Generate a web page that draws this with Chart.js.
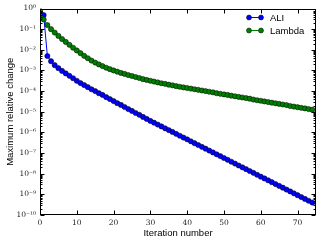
<!DOCTYPE html>
<html><head><meta charset="utf-8">
<script src="https://cdn.jsdelivr.net/npm/chart.js@4.4.1/dist/chart.umd.min.js"></script>
<style>html,body{margin:0;padding:0;background:#fff}canvas{display:block}</style>
</head><body>
<canvas id="c" width="325" height="245"></canvas>
<script>
const iterations = [0,1,2,3,4,5,6,7,8,9,10,11,12,13,14,15,16,17,18,19,20,21,22,23,24,25,26,27,28,29,30,31,32,33,34,35,36,37,38,39,40,41,42,43,44,45,46,47,48,49,50,51,52,53,54,55,56,57,58,59,60,61,62,63,64,65,66,67,68,69,70,71,72,73,74];
const aliValues = [0.66,0.48,5.0e-3,2.8e-3,1.8e-3,1.29e-3,9.5e-4,7.2e-4,5.5e-4,4.2e-4,
  3.16e-4,2.45e-4,1.95e-4,1.55e-4,1.23e-4,1.0e-4,7.9e-5,6.5e-5,5.1e-5,4.1e-5,
  3.3e-5,2.6e-5,2.14e-5,1.7e-5,1.35e-5,1.1e-5,8.7e-6,7.1e-6,5.6e-6,4.5e-6,
  3.6e-6,2.95e-6,2.4e-6,1.95e-6,1.58e-6,1.29e-6,1.05e-6,8.5e-7,6.9e-7,5.6e-7,
  4.6e-7,3.7e-7,3.0e-7,2.45e-7,2.0e-7,1.62e-7,1.32e-7,1.07e-7,8.7e-8,7.1e-8,
  5.75e-8,4.7e-8,3.8e-8,3.1e-8,2.5e-8,2.04e-8,1.66e-8,1.35e-8,1.1e-8,8.9e-9,
  7.2e-9,5.9e-9,4.8e-9,3.9e-9,3.16e-9,2.57e-9,2.1e-9,1.7e-9,1.38e-9,1.12e-9,
  9.1e-10,7.4e-10,6.0e-10,4.9e-10,4.0e-10];
const lambdaValues = [0.78,0.295,0.158,0.1,0.068,0.047,0.033,0.024,0.0174,0.0126,
  9.3e-3,6.9e-3,5.1e-3,3.9e-3,3.0e-3,2.4e-3,1.95e-3,1.62e-3,1.35e-3,1.15e-3,
  1.0e-3,8.7e-4,7.6e-4,6.8e-4,6.0e-4,5.4e-4,4.8e-4,4.3e-4,3.8e-4,3.47e-4,
  3.16e-4,2.9e-4,2.63e-4,2.4e-4,2.24e-4,2.04e-4,1.9e-4,1.74e-4,1.62e-4,1.51e-4,
  1.41e-4,1.32e-4,1.23e-4,1.15e-4,1.07e-4,1.0e-4,9.3e-5,8.7e-5,7.9e-5,7.4e-5,
  6.9e-5,6.5e-5,6.0e-5,5.6e-5,5.25e-5,4.9e-5,4.6e-5,4.3e-5,3.9e-5,3.6e-5,
  3.4e-5,3.16e-5,2.95e-5,2.75e-5,2.57e-5,2.4e-5,2.24e-5,2.1e-5,1.9e-5,1.78e-5,
  1.66e-5,1.55e-5,1.45e-5,1.35e-5,1.26e-5];
const seriesNames = ['ALI','Lambda'];
const xTickValues = [0,10,20,30,40,50,60,70];
const yTickValues = [1,1e-1,1e-2,1e-3,1e-4,1e-5,1e-6,1e-7,1e-8,1e-9,1e-10];
const yTickLabels = ['10⁰','10⁻¹','10⁻²','10⁻³','10⁻⁴','10⁻⁵','10⁻⁶','10⁻⁷','10⁻⁸','10⁻⁹','10⁻¹⁰'];

const toPts = vals => iterations.map((x,i)=>({x:x, y:vals[i]}));

const framePlugin = {
  id:'frame',
  afterDraw(chart){
    const ctx = chart.ctx, a = chart.chartArea;
    const xs = chart.scales.x, ys = chart.scales.y;
    ctx.save();
    ctx.strokeStyle = '#000';
    ctx.lineWidth = 1;
    const L = Math.round(a.left)+0.5, R = Math.round(a.right)-0.5, T = Math.round(a.top)+0.5, B = Math.round(a.bottom)-0.5;
    ctx.beginPath();
    xTickValues.forEach(v=>{
      const px = Math.round(xs.getPixelForValue(v))+0.5;
      ctx.moveTo(px,B); ctx.lineTo(px,B-4);
      ctx.moveTo(px,T); ctx.lineTo(px,T+4);
    });
    yTickValues.forEach(v=>{
      const py = Math.round(ys.getPixelForValue(v))+0.5;
      ctx.moveTo(L,py); ctx.lineTo(L+4,py);
      ctx.moveTo(R,py); ctx.lineTo(R-4,py);
    });
    for (let i=1;i<yTickValues.length;i++){
      const base = yTickValues[i];
      for (let k=2;k<=9;k++){
        const py = Math.round(ys.getPixelForValue(base*k))+0.5;
        ctx.moveTo(L,py); ctx.lineTo(L+2,py);
        ctx.moveTo(R,py); ctx.lineTo(R-2,py);
      }
    }
    ctx.stroke();
    ctx.strokeRect(L,T,R-L,B-T);
    // legend
    const ds = chart.data.datasets;
    ctx.font = '9.5px "Liberation Sans", Arial, sans-serif';
    ctx.textBaseline = 'middle';
    ds.forEach((d,i)=>{
      const y = a.top + 9 + i*13;
      const x1 = a.right - 67, x2 = a.right - 55;
      ctx.strokeStyle = d.borderColor; ctx.lineWidth = 1;
      ctx.beginPath(); ctx.moveTo(x1,y); ctx.lineTo(x2,y); ctx.stroke();
      [x1,x2].forEach(x=>{
        ctx.beginPath(); ctx.arc(x,y,2.5,0,Math.PI*2);
        ctx.fillStyle = d.pointBackgroundColor; ctx.fill();
        ctx.strokeStyle='#000'; ctx.lineWidth=0.5; ctx.stroke();
      });
      ctx.fillStyle = '#000';
      ctx.fillText(d.label, a.right - 46, y+0.5);
    });
    ctx.restore();
  }
};

new Chart(document.getElementById('c'), {
  type:'line',
  data:{datasets:[
    {label:seriesNames[0], data:toPts(aliValues), borderColor:'#0000ff', backgroundColor:'#0000ff',
     pointBackgroundColor:'#0000ff', pointBorderColor:'#000', pointBorderWidth:0.5, pointRadius:2.6,
     borderWidth:1, tension:0, order:1},
    {label:seriesNames[1], data:toPts(lambdaValues), borderColor:'#008000', backgroundColor:'#008000',
     pointBackgroundColor:'#008000', pointBorderColor:'#000', pointBorderWidth:0.5, pointRadius:2.6,
     borderWidth:1, tension:0, order:0}
  ]},
  options:{
    responsive:false, animation:false, devicePixelRatio:1,
    layout:{padding:{top:8,right:9,left:0,bottom:0}},
    plugins:{legend:{display:false}, tooltip:{enabled:false}},
    scales:{
      x:{type:'linear', min:0, max:75, grid:{display:false, drawTicks:false}, border:{display:false},
        afterBuildTicks:s=>{s.ticks = xTickValues.map(v=>({value:v}));},
        afterFit:s=>{s.height = 30;},
        ticks:{font:{family:'"DejaVu Serif", serif', size:7.5}, color:'#222', padding:4, maxRotation:0, autoSkip:false},
        title:{display:true, text:'Iteration number', color:'#000', font:{family:'"Liberation Sans", Arial, sans-serif', size:9.5}, padding:{top:0,bottom:6}}
      },
      y:{type:'logarithmic', min:1e-10, max:1, grid:{display:false, drawTicks:false}, border:{display:false},
        afterBuildTicks:s=>{s.ticks = yTickValues.map(v=>({value:v}));},
        afterFit:s=>{s.width = 40;},
        ticks:{font:{family:'"DejaVu Serif", serif', size:7.5}, color:'#222', padding:4, autoSkip:false,
          callback:(v)=>{const i=yTickValues.indexOf(v); return i>=0?yTickLabels[i]:'';}},
        title:{display:true, text:'Maximum relative change', color:'#000', font:{family:'"Liberation Sans", Arial, sans-serif', size:9.5}, padding:{top:5,bottom:0}}
      }
    }
  },
  plugins:[framePlugin]
});
</script>
</body></html>
